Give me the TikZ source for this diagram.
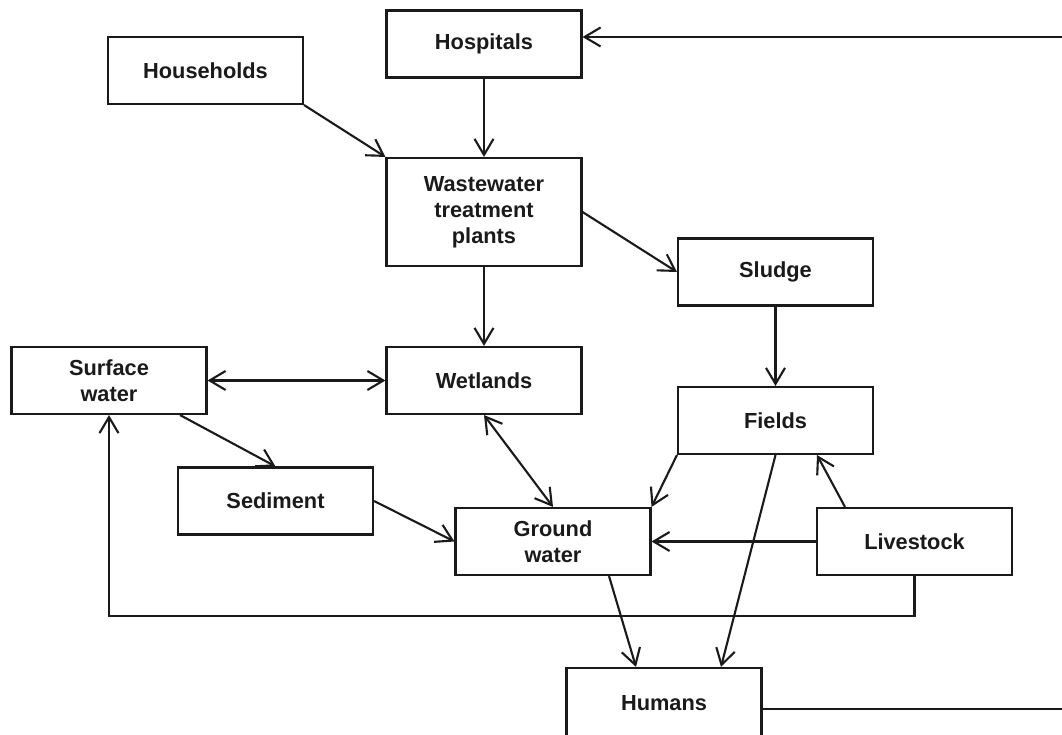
\documentclass[tikz,border=0pt]{standalone}
\usepackage{fontspec}
\setmainfont{Liberation Sans}
\usepackage{tikz}
\usetikzlibrary{arrows.meta,positioning,calc}
\definecolor{ink}{RGB}{26,26,26}

\begin{document}
\begin{tikzpicture}[x=0.02cm,y=0.02cm,
  box/.style={draw=ink,line width=1.2pt,align=center,text=ink,font=\fontsize{12.4}{14.9}\selectfont\bfseries,minimum width=3.9cm,minimum height=1.34cm,inner sep=2pt},
  arr/.style={-{Straight Barb[length=3.2mm,width=3.8mm,line width=1.2pt]},line width=1.2pt,ink},
  darr/.style={{Straight Barb[length=3.2mm,width=3.8mm,line width=1.2pt]}-{Straight Barb[length=3.2mm,width=3.8mm,line width=1.2pt]},line width=1.2pt,ink}]
\clip (0,0) rectangle (1062,734);
\node[box] (hospitals) at (484,690) {Hospitals};
\node[box] (households) at (205.5,663.5) {Households};
\node[box,minimum height=2.16cm] (wwtp) at (484,522) {Wastewater\\ treatment\\ plants};
\node[box] (sludge) at (775.5,462) {Sludge};
\node[box] (surface) at (109,353.5) {Surface\\ water};
\node[box] (wetlands) at (484,353.5) {Wetlands};
\node[box] (fields) at (775.5,313.5) {Fields};
\node[box] (sediment) at (275.5,233) {Sediment};
\node[box] (ground) at (553,192.5) {Ground\\ water};
\node[box] (livestock) at (914.5,192.5) {Livestock};
\node[box,minimum height=1.4cm] (humans) at (664,31) {Humans};
\coordinate (rim) at (1100,400);
\coordinate (humout) at ($(humans.east)+(0,-6)$);
\coordinate (hospin) at ($(hospitals.east)+(0,7)$);
\draw[arr] (households.south east) -- (wwtp.north west);
\draw[arr] (hospitals) -- (wwtp);
\draw[arr] (wwtp.east) -- (sludge.west);
\draw[arr] (wwtp) -- (wetlands);
\draw[arr] (sludge) -- (fields);
\draw[darr] (surface.east) -- (wetlands.west);
\draw[arr] ($(surface.south)+(71,0)$) -- (sediment.north);
\draw[darr] (wetlands.south) -- (ground.north);
\draw[arr] (sediment.east) -- (ground.west);
\draw[arr] (fields.south west) -- (ground.north east);
\draw[arr] (fields.south) -- ($(humans.north)+(57,0)$);
\draw[arr] ($(livestock.north)+(-69.5,0)$) -- ($(fields.south)+(41.5,0)$);
\draw[arr] (livestock.west) -- (ground.east);
\draw[arr] ($(ground.south)+(56,0)$) -- ($(humans.north)+(-28,0)$);
\draw[arr] (livestock.south) -- ++(0,-40) -| (surface.south);
\draw[arr] (humout) -- (humout -| rim) -- (hospin -| rim) -- (hospin);
\end{tikzpicture}
\end{document}
